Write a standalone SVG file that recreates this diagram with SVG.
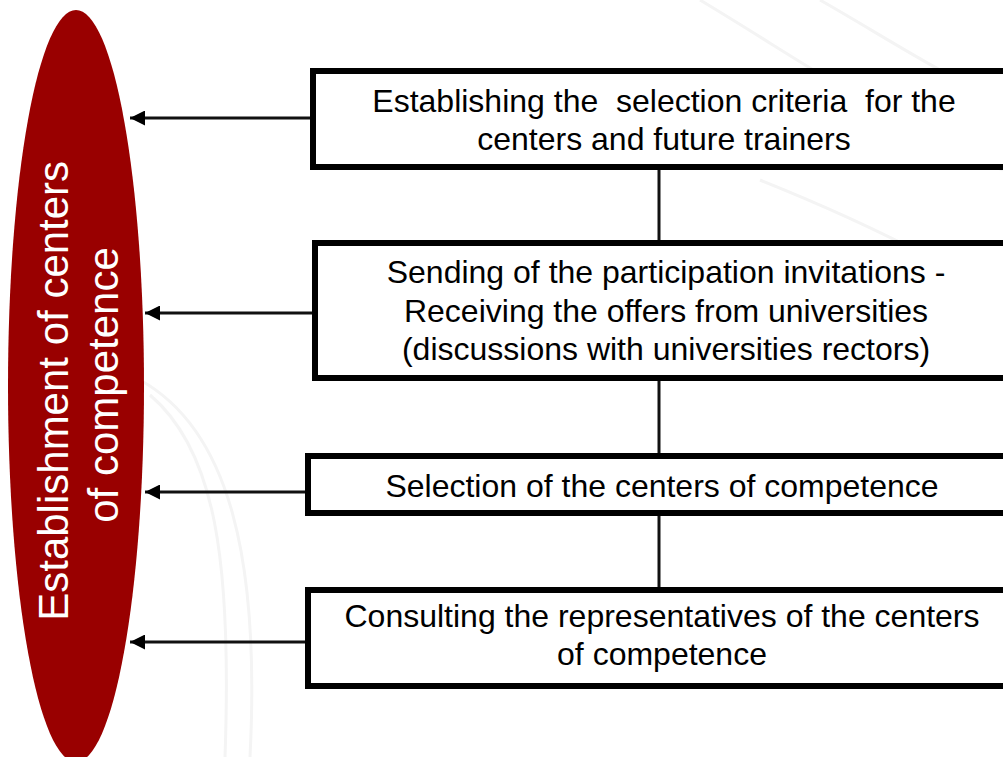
<svg xmlns="http://www.w3.org/2000/svg" width="1003" height="757" viewBox="0 0 1003 757">
  <defs>
    <marker id="arrow" viewBox="0 0 15 15" refX="15" refY="7.5" markerWidth="15" markerHeight="15" markerUnits="userSpaceOnUse" orient="auto">
      <path d="M0,0 L15,7.5 L0,15 Z" fill="#000"/>
    </marker>
    <style>
      .box { fill: #fff; stroke: #000; stroke-width: 6; }
      .lbl { font-family: "Liberation Sans", Arial, sans-serif; font-size: 32px; fill: #000; text-anchor: middle; white-space: pre; }
      .oval-lbl { font-family: "Liberation Sans", Arial, sans-serif; font-size: 42px; fill: #fff; text-anchor: middle; }
      .conn { stroke: #111; stroke-width: 3; fill: none; }
      .swirl { stroke: #f4f4f4; stroke-width: 3; fill: none; }
    </style>
  </defs>

  <rect x="0" y="0" width="1003" height="757" fill="#fff"/>

  <g id="background">
    <path class="swirl" d="M140,380 C230,430 260,560 250,757"/>
    <path class="swirl" d="M150,395 C215,450 232,560 225,757"/>
    <path class="swirl" d="M700,0 C800,60 900,130 1003,170"/>
    <path class="swirl" d="M820,0 C890,40 950,80 1003,100"/>
    <path class="swirl" d="M760,180 C860,220 940,260 1003,300"/>
  </g>

  <g id="connectors">
    <line class="conn" x1="310" y1="118" x2="130" y2="118" marker-end="url(#arrow)"/>
    <line class="conn" x1="312" y1="313" x2="145" y2="313" marker-end="url(#arrow)"/>
    <line class="conn" x1="305" y1="492" x2="145" y2="492" marker-end="url(#arrow)"/>
    <line class="conn" x1="305" y1="642" x2="130" y2="642" marker-end="url(#arrow)"/>
    <line class="conn" x1="659" y1="170" x2="659" y2="240"/>
    <line class="conn" x1="659" y1="381" x2="659" y2="453"/>
    <line class="conn" x1="659" y1="516" x2="659" y2="587"/>
  </g>

  <g id="oval">
    <ellipse cx="76" cy="386" rx="68" ry="376" fill="#990000"/>
    <text class="oval-lbl" transform="translate(68,385) rotate(-90)">
      <tspan x="0" y="0">Establishment of centers</tspan>
      <tspan x="0" y="50">of competence</tspan>
    </text>
  </g>

  <g id="step1">
    <rect class="box" x="313" y="71" width="710" height="96"/>
    <text class="lbl" xml:space="preserve"><tspan x="664" y="112">Establishing the  selection criteria  for the</tspan><tspan x="664" y="150">centers and future trainers</tspan></text>
  </g>

  <g id="step2">
    <rect class="box" x="315" y="243" width="710" height="135"/>
    <text class="lbl"><tspan x="666" y="283">Sending of the participation invitations -</tspan><tspan x="666" y="321.5">Receiving the offers from universities</tspan><tspan x="666" y="360">(discussions with universities rectors)</tspan></text>
  </g>

  <g id="step3">
    <rect class="box" x="308" y="456" width="715" height="57"/>
    <text class="lbl"><tspan x="662" y="497">Selection of the centers of competence</tspan></text>
  </g>

  <g id="step4">
    <rect class="box" x="308" y="590" width="715" height="96"/>
    <text class="lbl"><tspan x="662" y="627">Consulting the representatives of the centers</tspan><tspan x="662" y="665">of competence</tspan></text>
  </g>
</svg>
